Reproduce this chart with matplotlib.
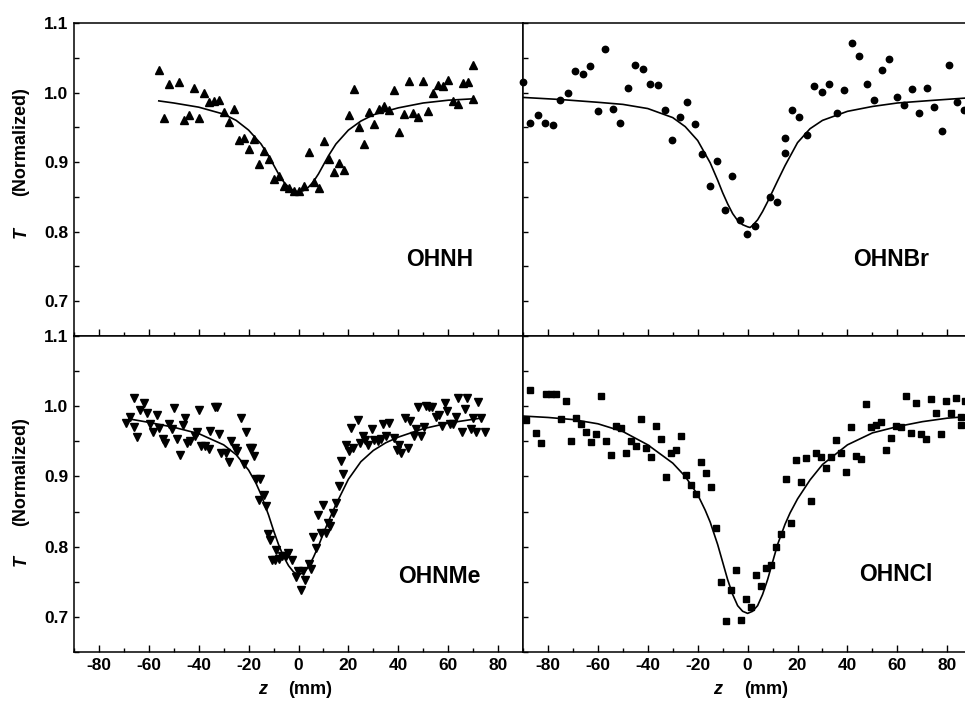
import numpy as np
import matplotlib
matplotlib.use("Agg")
import matplotlib.pyplot as plt
from matplotlib.ticker import MultipleLocator

plt.rcParams['font.family'] = ['Liberation Sans', 'DejaVu Sans']
plt.rcParams['font.weight'] = 'bold'
plt.rcParams['axes.unicode_minus'] = False

# ---- OHNH (up triangles) ----
ohnh_z = [-55.9, -53.9, -51.9, -47.9, -45.9, -43.9, -41.9, -39.9, -37.9, -35.9, -33.9, -31.9,
          -29.9, -27.9, -25.9, -23.9, -21.9, -19.9, -17.9, -15.9, -13.9, -11.9, -9.9, -7.9,
          -5.9, -3.9, -1.9, 0.1, 2.1, 4.1, 6.1, 8.1, 10.1, 12.1, 14.1, 16.1, 18.1, 20.1,
          22.1, 24.1, 26.1, 28.1, 30.1, 32.1, 34.1, 36.1, 38.1, 40.1, 42.1, 44.1, 46.1,
          48.1, 50.1, 52.1, 54.1, 56.1, 58.1, 60.1, 62.1, 64.1, 66.1, 68.1, 70.1, 70.1]
ohnh_t = [1.033, 0.963, 1.013, 1.015, 0.960, 0.968, 1.006, 0.964, 1.000, 0.986, 0.988, 0.990,
          0.972, 0.957, 0.977, 0.932, 0.935, 0.919, 0.933, 0.897, 0.916, 0.905, 0.876, 0.880,
          0.865, 0.863, 0.858, 0.859, 0.865, 0.915, 0.871, 0.863, 0.930, 0.904, 0.886, 0.899,
          0.889, 0.968, 1.005, 0.951, 0.926, 0.972, 0.955, 0.977, 0.980, 0.975, 1.004, 0.944,
          0.969, 1.016, 0.970, 0.965, 1.016, 0.974, 0.999, 1.011, 1.010, 1.018, 0.988, 0.984,
          1.014, 1.015, 1.040, 0.991]
ohnh_fit_z = [-56, -50, -40, -30, -25, -20, -15, -12, -10, -8, -6, -4, -2, 0, 2, 4, 6, 8,
              10, 12, 15, 20, 25, 30, 40, 50, 60, 70]
ohnh_fit_t = [0.988, 0.985, 0.979, 0.969, 0.960, 0.946, 0.926, 0.909, 0.896, 0.883, 0.872,
              0.864, 0.859, 0.857, 0.859, 0.864, 0.872, 0.883, 0.896, 0.909, 0.926, 0.946,
              0.959, 0.968, 0.978, 0.985, 0.989, 0.991]

# ---- OHNBr (circles) ----
ohnbr_z = [-90.0, -87.0, -84.0, -81.0, -78.1, -75.0, -72.1, -69.0, -66.0, -63.1, -60.0, -57.1,
           -54.1, -51.1, -48.1, -45.1, -42.1, -39.2, -36.1, -33.2, -30.1, -27.1, -24.2, -21.1,
           -18.2, -15.1, -12.2, -9.2, -6.1, -3.2, -0.1, 2.8, 8.8, 11.8, 14.8, 14.8, 17.8,
           20.7, 23.8, 26.7, 29.8, 32.8, 35.8, 38.8, 41.7, 44.8, 47.7, 50.8, 53.7, 56.8,
           59.8, 62.7, 65.8, 68.7, 71.8, 74.7, 77.8, 80.7, 83.8, 86.5]
ohnbr_t = [1.015, 0.956, 0.968, 0.956, 0.954, 0.989, 1.000, 1.031, 1.026, 1.038, 0.974, 1.062,
           0.976, 0.956, 1.007, 1.040, 1.034, 1.013, 1.011, 0.975, 0.932, 0.965, 0.987, 0.955,
           0.911, 0.865, 0.901, 0.831, 0.880, 0.817, 0.797, 0.808, 0.850, 0.842, 0.913, 0.935,
           0.975, 0.965, 0.939, 1.010, 1.001, 1.013, 0.970, 1.004, 1.071, 1.052, 1.012, 0.990,
           1.033, 1.048, 0.994, 0.982, 1.005, 0.971, 1.006, 0.979, 0.945, 1.039, 0.986, 0.975]
ohnbr_fit_z = [-90, -75, -60, -50, -40, -30, -25, -20, -15, -12, -10, -8, -6, -4, -2, 0, 1,
               2, 4, 6, 8, 10, 12, 15, 20, 25, 30, 40, 50, 60, 75, 87]
ohnbr_fit_t = [0.993, 0.990, 0.986, 0.983, 0.977, 0.964, 0.951, 0.931, 0.899, 0.874, 0.856,
               0.840, 0.826, 0.816, 0.810, 0.807, 0.806, 0.809, 0.817, 0.829, 0.843, 0.858,
               0.873, 0.895, 0.928, 0.948, 0.960, 0.973, 0.980, 0.985, 0.989, 0.992]

# ---- OHNMe (down triangles) ----
ohnme_z = [-69.2, -67.6, -65.9, -65.9, -64.9, -63.6, -62.0, -60.9, -59.6, -58.3, -56.9, -55.9,
           -54.5, -53.5, -51.9, -50.9, -49.9, -48.9, -47.6, -46.5, -45.6, -44.7, -43.3, -41.6,
           -40.7, -39.9, -38.9, -37.6, -35.9, -35.3, -33.6, -32.7, -32.0, -30.9, -29.2, -27.9,
           -26.9, -25.6, -24.7, -22.9, -22.0, -20.9, -19.6, -18.7, -18.0, -17.2, -15.3, -16.0,
           -14.0, -13.2, -12.3, -11.3, -10.5, -9.6, -8.9, -7.9, -6.5, -5.2, -4.1, -2.5, -1.2,
           -0.3, 1.1, 2.0, 2.8, 4.1, 5.1, 6.0, 7.1, 7.7, 9.1, 10.0, 11.1, 11.7, 12.7, 13.7,
           15.1, 16.1, 17.1, 18.0, 19.1, 20.1, 21.1, 22.0, 23.7, 24.7, 25.7, 26.8, 27.7, 29.5,
           30.4, 31.7, 33.1, 34.0, 35.1, 36.4, 38.4, 39.3, 40.4, 41.1, 42.8, 43.7, 44.7, 46.4,
           47.3, 48.1, 49.1, 50.4, 51.1, 52.4, 53.7, 55.1, 56.4, 57.7, 58.8, 59.7, 60.7, 62.0,
           63.1, 64.1, 65.5, 66.8, 67.7, 69.1, 70.0, 71.1, 72.1, 73.1, 74.8]
ohnme_t = [0.976, 0.985, 1.011, 0.971, 0.956, 0.995, 1.005, 0.990, 0.974, 0.964, 0.987, 0.969,
           0.953, 0.948, 0.975, 0.968, 0.997, 0.953, 0.930, 0.973, 0.983, 0.948, 0.950, 0.957,
           0.964, 0.994, 0.944, 0.943, 0.939, 0.965, 0.999, 0.999, 0.960, 0.933, 0.933, 0.920,
           0.950, 0.940, 0.936, 0.983, 0.918, 0.963, 0.940, 0.940, 0.929, 0.897, 0.897, 0.866,
           0.873, 0.858, 0.818, 0.810, 0.781, 0.781, 0.795, 0.783, 0.787, 0.786, 0.791, 0.781,
           0.757, 0.766, 0.738, 0.766, 0.753, 0.775, 0.768, 0.814, 0.798, 0.845, 0.820, 0.860,
           0.819, 0.834, 0.830, 0.848, 0.862, 0.886, 0.922, 0.904, 0.945, 0.936, 0.969, 0.940,
           0.980, 0.948, 0.957, 0.952, 0.945, 0.968, 0.952, 0.951, 0.953, 0.974, 0.957, 0.976,
           0.955, 0.937, 0.945, 0.934, 0.983, 0.940, 0.979, 0.957, 0.967, 0.999, 0.958, 0.971,
           1.001, 0.999, 0.999, 0.985, 0.988, 0.972, 1.004, 0.993, 0.974, 0.975, 0.985, 1.012,
           0.964, 0.996, 1.012, 0.968, 0.983, 0.964, 1.006, 0.983, 0.964]
ohnme_fit_z = [-68, -60, -50, -40, -30, -25, -20, -17, -15, -12, -10, -8, -6, -4, -2, 0, 2,
               4, 6, 8, 10, 12, 15, 20, 25, 30, 35, 40, 50, 60, 73]
ohnme_fit_t = [0.982, 0.977, 0.970, 0.961, 0.945, 0.931, 0.909, 0.890, 0.874, 0.845, 0.823,
               0.803, 0.786, 0.773, 0.764, 0.760, 0.763, 0.771, 0.785, 0.801, 0.819, 0.836,
               0.860, 0.896, 0.921, 0.937, 0.948, 0.956, 0.968, 0.976, 0.983]

# ---- OHNCl (squares) ----
ohncl_z = [-88.9, -87.0, -84.9, -82.9, -80.9, -78.9, -76.9, -74.9, -72.9, -70.9, -68.8, -66.8,
           -64.8, -62.8, -60.8, -58.8, -56.8, -54.8, -52.8, -50.8, -48.8, -46.8, -44.8, -42.8,
           -40.8, -38.8, -36.8, -34.8, -32.8, -30.7, -28.7, -26.7, -24.7, -22.7, -20.7, -18.7,
           -16.7, -14.7, -12.7, -10.7, -8.7, -6.7, -4.7, -2.7, -0.7, 1.3, 3.3, 5.3, 7.4, 9.4,
           11.4, 13.4, 15.4, 17.4, 19.4, 21.4, 23.4, 25.4, 27.4, 29.4, 31.4, 33.4, 35.4, 37.4,
           39.4, 41.4, 43.5, 45.5, 47.5, 49.5, 51.5, 53.5, 55.5, 57.5, 59.5, 61.5, 63.5, 65.5,
           67.5, 69.5, 71.5, 73.5, 75.5, 77.5, 79.5, 81.6, 83.6, 85.6, 85.6, 86.9]
ohncl_t = [0.981, 1.023, 0.962, 0.948, 1.017, 1.017, 1.018, 0.982, 1.007, 0.951, 0.983, 0.975,
           0.964, 0.949, 0.960, 1.014, 0.950, 0.931, 0.972, 0.969, 0.933, 0.950, 0.943, 0.982,
           0.940, 0.927, 0.972, 0.953, 0.899, 0.933, 0.938, 0.958, 0.902, 0.888, 0.875, 0.921,
           0.905, 0.885, 0.827, 0.750, 0.694, 0.738, 0.767, 0.695, 0.726, 0.714, 0.760, 0.744,
           0.770, 0.774, 0.800, 0.818, 0.896, 0.833, 0.923, 0.892, 0.926, 0.865, 0.934, 0.927,
           0.912, 0.928, 0.952, 0.933, 0.907, 0.970, 0.929, 0.925, 1.003, 0.970, 0.973, 0.978,
           0.938, 0.955, 0.972, 0.970, 1.015, 0.962, 1.005, 0.960, 0.953, 1.010, 0.990, 0.960,
           1.007, 0.991, 1.011, 0.985, 0.973, 1.008]
ohncl_fit_z = [-90, -80, -70, -60, -50, -40, -30, -25, -20, -17, -15, -12, -10, -8, -6, -4,
               -2, 0, 2, 4, 6, 8, 10, 12, 15, 17, 20, 25, 30, 40, 50, 60, 70, 80, 87]
ohncl_fit_t = [0.986, 0.984, 0.981, 0.975, 0.964, 0.945, 0.919, 0.900, 0.874, 0.852, 0.835,
               0.803, 0.778, 0.753, 0.732, 0.716, 0.708, 0.705, 0.708, 0.716, 0.732, 0.753,
               0.778, 0.803, 0.832, 0.848, 0.868, 0.895, 0.917, 0.945, 0.962, 0.971, 0.978,
               0.983, 0.985]

W, H = 965, 706
fig = plt.figure(figsize=(W / 100, H / 100), dpi=100)

x_left, x_mid, x_right = 74 / W, 523 / W, 1.0
y_top, y_mid, y_bot = 1 - 23 / H, 1 - 336 / H, 1 - 652 / H

ax_tl = fig.add_axes([x_left, y_mid, x_mid - x_left, y_top - y_mid])
ax_tr = fig.add_axes([x_mid, y_mid, x_right - x_mid, y_top - y_mid])
ax_bl = fig.add_axes([x_left, y_bot, x_mid - x_left, y_mid - y_bot])
ax_br = fig.add_axes([x_mid, y_bot, x_right - x_mid, y_mid - y_bot])

panels = [
    (ax_tl, ohnh_z, ohnh_t, ohnh_fit_z, ohnh_fit_t, '^', 5.5, 'OHNH', (43.2, 0.751)),
    (ax_tr, ohnbr_z, ohnbr_t, ohnbr_fit_z, ohnbr_fit_t, 'o', 4.6, 'OHNBr', (42.3, 0.751)),
    (ax_bl, ohnme_z, ohnme_t, ohnme_fit_z, ohnme_fit_t, 'v', 5.5, 'OHNMe', (40.0, 0.748)),
    (ax_br, ohncl_z, ohncl_t, ohncl_fit_z, ohncl_fit_t, 's', 4.0, 'OHNCl', (44.7, 0.751)),
]

for ax, z, t, fz, ft, mk, ms, name, pos in panels:
    ax.plot(z, t, linestyle='none', marker=mk, markersize=ms, color='black', clip_on=False)
    ax.plot(fz, ft, color='black', linewidth=1.2)
    ax.text(pos[0], pos[1], name, fontsize=16.5, fontweight='bold', ha='left', va='baseline')
    ax.set_ylim(0.65, 1.1)
    ax.xaxis.set_major_locator(MultipleLocator(20))
    ax.xaxis.set_minor_locator(MultipleLocator(10))
    ax.yaxis.set_major_locator(MultipleLocator(0.1))
    ax.yaxis.set_minor_locator(MultipleLocator(0.05))
    ax.tick_params(which='both', direction='in', top=False, right=False, width=1,
                   labelsize=12.5, pad=4)
    ax.tick_params(axis='x', which='major', length=5)
    ax.tick_params(axis='x', which='minor', length=3)
    ax.tick_params(axis='y', which='both', length=3.5)
    for s in ax.spines.values():
        s.set_linewidth(1.1)
    for lab in ax.get_xticklabels() + ax.get_yticklabels():
        lab.set_fontweight('bold')

for ax in (ax_tl, ax_bl):
    ax.set_xlim(-90, 90)
for ax in (ax_tr, ax_br):
    ax.set_xlim(-90, 87.1)
    ax.spines['right'].set_visible(False)
    ax.tick_params(labelleft=False)
for ax in (ax_tl, ax_tr):
    ax.tick_params(labelbottom=False)

ax_tl.set_yticks([0.7, 0.8, 0.9, 1.0, 1.1])
ax_bl.set_yticks([0.7, 0.8, 0.9, 1.0, 1.1])
for ax in (ax_tl, ax_bl):
    ax.set_yticklabels(['0.7', '0.8', '0.9', '1.0', '1.1'], fontweight='bold')

# axis titles
for yt, yn in ((232, 142), (560, 472)):
    fig.text(21 / W, 1 - yt / H, 'T', rotation=90, fontsize=13, fontweight='bold',
             style='italic', ha='center', va='center')
    fig.text(21 / W, 1 - yn / H, '(Normalized)', rotation=90, fontsize=13,
             fontweight='bold', ha='center', va='center')
for xz, xm in ((263, 310), (718, 766)):
    fig.text(xz / W, 1 - 690 / H, 'z', fontsize=13, fontweight='bold', style='italic',
             ha='center', va='center')
    fig.text(xm / W, 1 - 690 / H, '(mm)', fontsize=13, fontweight='bold',
             ha='center', va='center')

fig.savefig('out.png', dpi=100)
